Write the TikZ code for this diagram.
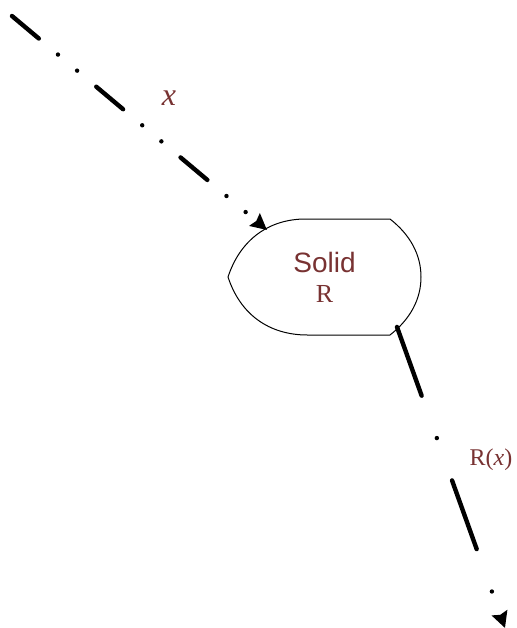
\documentclass[tikz,border=0pt]{standalone}
\usepackage{fontspec}
\setmainfont{Liberation Serif}
\setsansfont{Liberation Sans}
\usetikzlibrary{arrows.meta,positioning}
\definecolor{labelred}{RGB}{120,50,50}

\begin{document}
\begin{tikzpicture}[x=0.5pt,y=-0.5pt,>={Stealth[length=8pt,width=8pt,inset=1pt]},
	every node/.style={text=labelred},
	solidbox/.style={minimum width=96.5pt,minimum height=58pt,inner sep=0pt,align=center},
	flowin/.style={line width=2.2pt,line cap=round,dash pattern=on 17.5pt off 12.5pt on 0pt off 12.5pt on 0pt off 12.5pt},
	flowout/.style={line width=2.2pt,line cap=round,dash pattern=on 36.5pt off 22.5pt on 0pt off 22.5pt}]
		\useasboundingbox (0,0) rectangle (517,628);
		\node[solidbox] (solid) at (324.5,277) {{\sffamily\fontsize{14}{17.5}\selectfont Solid}\\[3pt]{\fontsize{13}{15}\selectfont R}};
		\draw[line width=0.5pt,shift={(solid.center)}]
			(-96.5,0) .. controls (-84,-38) and (-55,-58) .. (-19,-58) -- (65.5,-58)
			.. controls (86,-42) and (96.5,-22) .. (96.5,0)
			.. controls (96.5,22) and (86,42) .. (65.5,58) -- (-17,58)
			.. controls (-55,58) and (-84,38) .. (-96.5,0);

		\coordinate (src) at (12,16);
		\coordinate (solidin) at ([shift={(-57.5,-47)}]solid.center);
		\coordinate (solidout) at ([shift={(72.5,50)}]solid.center);
		\coordinate (dst) at (505,628);

		\node (x) at (169,98) {\fontsize{16}{18}\selectfont\textit{x}};
		\node (rx) at (491,460) {\fontsize{12}{14}\selectfont R(\textit{x})};

		\draw[->,flowin] (src) -- (solidin);
		\draw[->,flowout] (solidout) -- (dst);
	\end{tikzpicture}
\end{document}
